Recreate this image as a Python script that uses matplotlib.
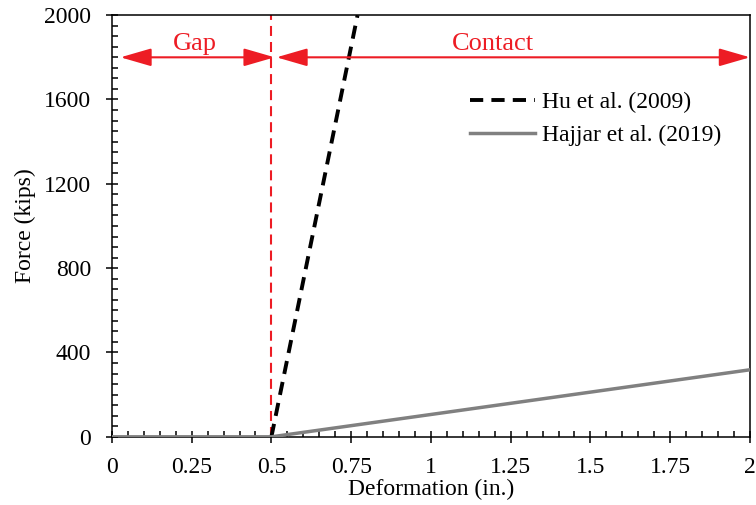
import matplotlib.pyplot as plt
from matplotlib.ticker import MultipleLocator, FuncFormatter

plt.rcParams['font.family'] = ['Liberation Serif', 'DejaVu Serif']

# force-deformation curves
hu_x = [0.5, 0.77]
hu_f = [0, 2000]
hajjar_x = [0, 0.5, 2.0]
hajjar_f = [0, 0, 318]

gap = 0.5
red = '#ED1C24'

fig = plt.figure(figsize=(7.56, 5.05), dpi=100)
ax = fig.add_axes([0.148, 0.135, 0.844, 0.835])

ax.plot(hu_x, hu_f, color='k', lw=2.8, dashes=(3.4, 2.1), label='Hu et al. (2009)', zorder=3)
ax.plot(hajjar_x, hajjar_f, color='#808080', lw=2.5, label='Hajjar et al. (2019)', zorder=4)

# gap / contact zones
ax.axvline(gap, color=red, lw=1.5, dashes=(4.8, 2.9), zorder=2)
arrow = dict(arrowstyle='<|-|>,head_length=1.9,head_width=0.55', color=red, lw=1.5,
             shrinkA=0, shrinkB=0, mutation_scale=10)
ax.annotate('', xy=(0.027, 1800), xytext=(0.51, 1800), arrowprops=arrow)
ax.annotate('', xy=(0.516, 1800), xytext=(2.0, 1800), arrowprops=arrow)
ax.text(0.26, 1835, 'Gap', color=red, fontsize=19, ha='center', va='baseline')
ax.text(1.195, 1835, 'Contact', color=red, fontsize=19, ha='center', va='baseline')

ax.set_xlim(0, 2)
ax.set_ylim(0, 2000)
ax.xaxis.set_major_locator(MultipleLocator(0.25))
ax.xaxis.set_minor_locator(MultipleLocator(0.05))
ax.yaxis.set_major_locator(MultipleLocator(400))
ax.yaxis.set_minor_locator(MultipleLocator(50))
ax.xaxis.set_major_formatter(FuncFormatter(lambda v, p: f'{v:g}'))

ax.tick_params(which='major', direction='inout', length=9, width=1.1, labelsize=17,
               top=False, right=False)
ax.tick_params(which='minor', direction='in', length=4.5, width=1.1, top=False, right=False)
ax.tick_params(axis='x', which='major', pad=10)
ax.tick_params(axis='y', which='major', pad=10.5)

for s in ax.spines.values():
    s.set_linewidth(1.1)

ax.set_xlabel('Deformation (in.)', fontsize=17, labelpad=1)
ax.set_ylabel('Force (kips)', fontsize=17, labelpad=6)

ax.legend(loc='upper left', bbox_to_anchor=(0.5425, 0.846), frameon=False, fontsize=17,
          handlelength=2.75, handletextpad=0.3, labelspacing=0.46, borderpad=0)

fig.savefig('out.png', dpi=100)
